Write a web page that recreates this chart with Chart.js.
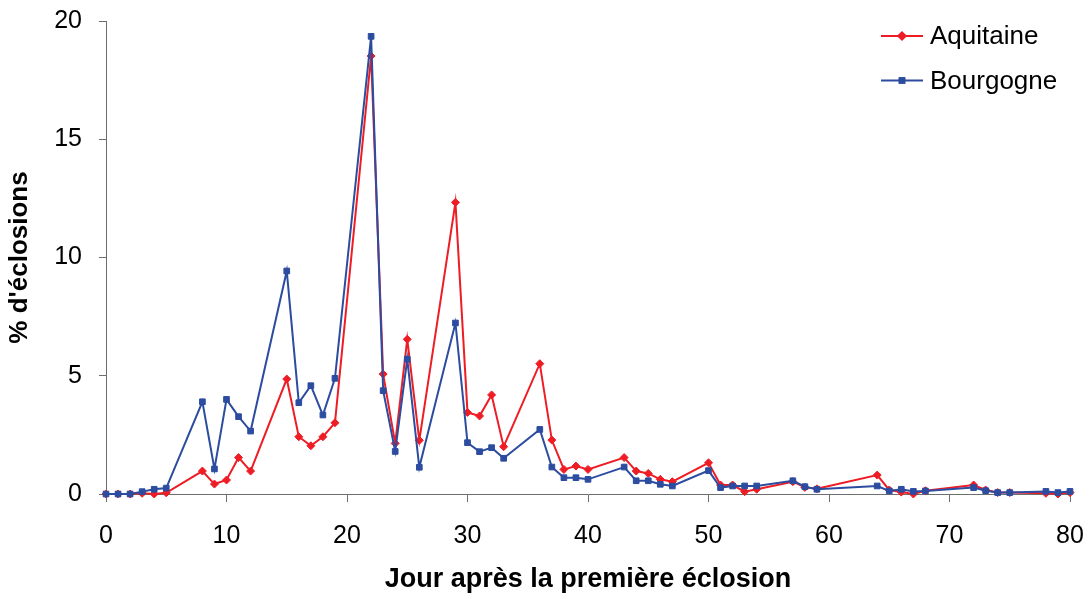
<!DOCTYPE html>
<html>
<head>
<meta charset="utf-8">
<script src="https://cdn.jsdelivr.net/npm/chart.js@4"></script>
<style>
  html, body { margin: 0; padding: 0; background: #fff; }
  #wrap { width: 1089px; height: 599px; position: relative; }
</style>
</head>
<body>
<div id="wrap"><canvas id="chart"></canvas></div>
<script>
// jours (axe x)
const jours = [0, 1, 2, 3, 4, 5, 8, 9, 10, 11, 12, 15, 16, 17, 18, 19, 22, 23, 24, 25, 26,
  29, 30, 31, 32, 33, 36, 37, 38, 39, 40, 43, 44, 45, 46, 47, 50, 51, 52, 53, 54,
  57, 58, 59, 64, 65, 66, 67, 68, 72, 73, 74, 75, 78, 79, 80];

// % d'éclosions
const aquitaine = [0, 0, 0, 0.03, 0, 0.05, 0.97, 0.42, 0.59, 1.54, 0.97, 4.86, 2.42, 2.04, 2.42, 3.01,
  18.52, 5.07, 2.14, 6.54, 2.27, 12.33, 3.45, 3.30, 4.19, 2.0, 5.51, 2.28, 1.04, 1.18, 1.04,
  1.54, 0.97, 0.87, 0.62, 0.52, 1.32, 0.38, 0.38, 0.1, 0.2, 0.52, 0.28, 0.22,
  0.8, 0.17, 0.08, 0.0, 0.14, 0.38, 0.17, 0.06, 0.06, 0.03, 0, 0.06];

const bourgogne = [0, 0, 0, 0.1, 0.2, 0.25, 3.9, 1.06, 4.0, 3.27, 2.66, 9.43, 3.86, 4.58, 3.34, 4.89,
  19.35, 4.37, 1.8, 5.7, 1.13, 7.23, 2.17, 1.79, 1.96, 1.51, 2.73, 1.14, 0.69, 0.69, 0.62,
  1.14, 0.56, 0.56, 0.41, 0.34, 0.99, 0.27, 0.34, 0.34, 0.34, 0.56, 0.31, 0.2,
  0.34, 0.13, 0.2, 0.11, 0.13, 0.27, 0.14, 0.06, 0.06, 0.11, 0.06, 0.11];

const xTicks = [0, 10, 20, 30, 40, 50, 60, 70, 80];
const yTicks = [0, 5, 10, 15, 20];

const ROUGE = '#ee1d25';
const BLEU = '#2c4ca0';
const AXE = '#6e6e6e';
const FONT = "'Liberation Sans', Arial, sans-serif";

Chart.defaults.font.family = FONT;
Chart.defaults.color = '#000';

const toPoints = (ys) => jours.map((x, i) => ({ x, y: ys[i] }));

// pas de marge automatique autour des axes : la zone du graphique suit layout.padding
const noScalePadding = (s) => {
  s.paddingTop = 0;
  s.paddingBottom = 0;
  s.paddingLeft = 0;
  s.paddingRight = 0;
};

// légende dessinée dans la zone du graphique, en haut à droite
const legendPlugin = {
  id: 'legendeInterne',
  afterDraw(chart) {
    const ctx = chart.ctx;
    const rows = [36, 80.5];
    chart.data.datasets.forEach((ds, i) => {
      const y = rows[i];
      ctx.save();
      ctx.strokeStyle = ds.borderColor;
      ctx.lineWidth = 1.8;
      ctx.beginPath();
      ctx.moveTo(881, y);
      ctx.lineTo(923, y);
      ctx.stroke();
      ctx.fillStyle = ds.backgroundColor;
      Chart.helpers.drawPoint(ctx, {
        pointStyle: ds.pointStyle, radius: ds.pointStyle === 'rect' ? 3.4 : 3.6,
        borderWidth: 1, rotation: 0
      }, 902, y);
      ctx.fill();
      ctx.stroke();
      ctx.fillStyle = '#000';
      ctx.font = '26px ' + FONT;
      ctx.textBaseline = 'middle';
      ctx.textAlign = 'left';
      ctx.fillText(ds.label, 930, y + 1);
      ctx.restore();
    });
  }
};

new Chart(document.getElementById('chart'), {
  type: 'line',
  data: {
    datasets: [
      {
        label: 'Aquitaine',
        data: toPoints(aquitaine),
        borderColor: ROUGE,
        backgroundColor: ROUGE,
        borderWidth: 2,
        pointStyle: 'rectRot',
        pointRadius: 4,
        pointBorderWidth: 1,
        tension: 0,
        clip: false,
        order: 1,
      },
      {
        label: 'Bourgogne',
        data: toPoints(bourgogne),
        borderColor: BLEU,
        backgroundColor: BLEU,
        borderWidth: 2,
        pointStyle: 'rect',
        pointRadius: 4,
        pointBorderWidth: 1,
        tension: 0,
        clip: false,
        order: 0,
      }
    ]
  },
  options: {
    responsive: true,
    maintainAspectRatio: false,
    animation: false,
    layout: { autoPadding: false, padding: { left: 4, right: 19, top: 21, bottom: 3 } },
    plugins: {
      legend: { display: false },
      tooltip: { enabled: false }
    },
    scales: {
      x: {
        type: 'linear',
        min: 0,
        max: 80,
        afterBuildTicks: (s) => { s.ticks = xTicks.map(v => ({ value: v })); },
        afterFit: (s) => { s.height = 102; noScalePadding(s); },
        border: { display: true, color: AXE, width: 1 },
        grid: { drawOnChartArea: false, drawTicks: true, tickLength: 8, color: AXE },
        ticks: { padding: 19, maxRotation: 0, font: { size: 25 }, color: '#000' },
        title: {
          display: true,
          text: 'Jour après la première éclosion',
          padding: 0,
          font: { size: 27, weight: 'bold' },
          color: '#000'
        }
      },
      y: {
        min: 0,
        max: 20,
        afterBuildTicks: (s) => { s.ticks = yTicks.map(v => ({ value: v })); },
        afterFit: (s) => { s.width = 102; noScalePadding(s); },
        border: { display: true, color: AXE, width: 1 },
        grid: { drawOnChartArea: false, drawTicks: true, tickLength: 7, color: AXE },
        ticks: { padding: 17, font: { size: 25 }, color: '#000' },
        title: {
          display: true,
          text: "% d'éclosions",
          padding: 0,
          font: { size: 26, weight: 'bold' },
          color: '#000'
        }
      }
    }
  },
  plugins: [legendPlugin]
});
</script>
</body>
</html>
